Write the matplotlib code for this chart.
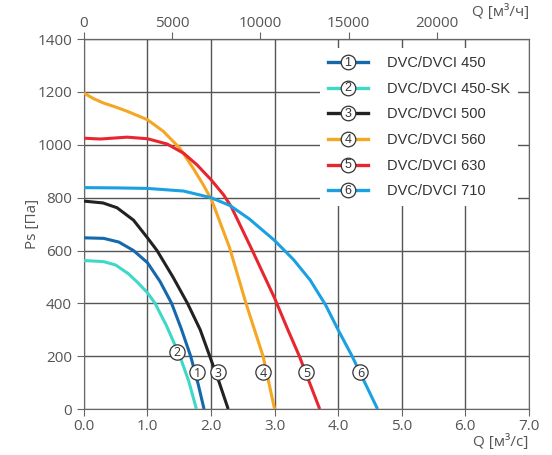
import matplotlib
matplotlib.use("Agg")
import matplotlib.pyplot as plt
from matplotlib.legend_handler import HandlerBase
from matplotlib.lines import Line2D
from matplotlib.text import Text

# fan curves, Q in m3/s, Ps in Pa
names = ["DVC/DVCI 450", "DVC/DVCI 450-SK", "DVC/DVCI 500",
         "DVC/DVCI 560", "DVC/DVCI 630", "DVC/DVCI 710"]
colors = ["#1668ad", "#3fd8c8", "#222222", "#f5a623", "#e8262f", "#1ba0e2"]

q1 = [0, 0.31, 0.55, 0.78, 1.0, 1.2, 1.38, 1.53, 1.68, 1.8, 1.89]
p1 = [648, 646, 632, 600, 554, 482, 400, 305, 200, 92, 0]
q2 = [0, 0.31, 0.5, 0.7, 0.85, 1.0, 1.12, 1.3, 1.51, 1.65, 1.77]
p2 = [562, 558, 545, 512, 478, 440, 400, 315, 200, 105, 0]
q3 = [0, 0.3, 0.52, 0.78, 1.0, 1.15, 1.4, 1.63, 1.83, 1.98, 2.13, 2.27]
p3 = [787, 780, 762, 715, 648, 600, 500, 400, 300, 200, 100, 0]
q4 = [0, 0.15, 0.31, 0.5, 0.68, 1.0, 1.25, 1.51, 1.72, 1.88, 2.01, 2.29, 2.55, 2.82, 3.0]
p4 = [1196, 1175, 1158, 1143, 1127, 1095, 1051, 987, 911, 848, 791, 612, 400, 199, 0]
q5 = [0, 0.26, 0.68, 1.0, 1.31, 1.57, 1.78, 2.0, 2.2, 2.32, 2.65, 3.0, 3.2, 3.39, 3.55, 3.71]
p5 = [1025, 1022, 1029, 1023, 1003, 968, 924, 868, 810, 765, 600, 420, 305, 200, 100, 0]
q6 = [0, 0.5, 1.0, 1.57, 2.0, 2.3, 2.6, 3.0, 3.3, 3.56, 3.8, 4.01, 4.22, 4.42, 4.62]
p6 = [838, 837, 835, 825, 800, 770, 720, 638, 565, 488, 395, 295, 200, 100, 0]

label_q = [1.78, 1.46, 2.11, 2.82, 3.50, 4.35]
label_p = [139, 216, 139, 139, 139, 139]

xticks = [0, 1, 2, 3, 4, 5, 6, 7]
yticks = [0, 200, 400, 600, 800, 1000, 1200, 1400]
top_ticks = [0, 5000, 10000, 15000, 20000]

txt_col = "#555555"
grid_col = "#555555"


class CircleNum(HandlerBase):
    def __init__(self, num):
        super().__init__()
        self.num = num

    def create_artists(self, legend, orig_handle, xdescent, ydescent,
                       width, height, fontsize, trans):
        y = height / 2 - ydescent
        ln = Line2D([-xdescent, width - xdescent], [y, y],
                    color=orig_handle.get_color(), lw=2.4, transform=trans)
        c = Line2D([width / 2 - xdescent], [y], marker="o", ms=10.5,
                   mfc="white", mec="#333333", mew=0.9, transform=trans)
        t = Text(width / 2 - xdescent, y - 0.5, self.num, ha="center", va="center",
                 fontsize=9, color="#333333", family="Liberation Sans",
                 transform=trans)
        return [ln, c, t]


fig = plt.figure(figsize=(5.52, 4.55), dpi=100)
ax = fig.add_axes([0.152, 0.101, 0.806, 0.813])

qs = [q1, q2, q3, q4, q5, q6]
ps = [p1, p2, p3, p4, p5, p6]
handles = []
for q, p, c, n in zip(qs, ps, colors, names):
    h, = ax.plot(q, p, color=c, lw=2.2, label=n, zorder=3,
                 solid_capstyle="butt", solid_joinstyle="round")
    handles.append(h)

for i in range(6):
    ax.plot(label_q[i], label_p[i], marker="o", ms=11, mfc="white",
            mec="#333333", mew=0.9, zorder=4)
    ax.text(label_q[i], label_p[i] - 3, str(i + 1), ha="center", va="center",
            fontsize=9, color="#333333", family="Open Sans", zorder=5)

ax.set_xlim(0, 7)
ax.set_ylim(0, 1400)
ax.set_xticks(xticks)
ax.set_xticklabels(["%.1f" % v for v in xticks])
ax.set_yticks(yticks)
ax.grid(True, color=grid_col, lw=1.0)
ax.set_axisbelow(True)
for s in ax.spines.values():
    s.set_color("#666666")
ax.tick_params(colors="#666666", labelcolor=txt_col, labelsize=11, length=5)
ax.tick_params(axis="x", pad=2)
for lab in ax.get_xticklabels() + ax.get_yticklabels():
    lab.set_family("Open Sans")

top = ax.secondary_xaxis("top", functions=(lambda x: x * 3600, lambda x: x / 3600))
top.set_xticks(top_ticks)
top.tick_params(colors="#666666", labelcolor=txt_col, labelsize=11, length=5, pad=1)
for lab in top.get_xticklabels():
    lab.set_family("Open Sans")

ax.set_ylabel("Ps [Па]", family="Open Sans", fontsize=11, color=txt_col, labelpad=-2)
ax.text(1.0, -0.09, "Q [м³/с]", transform=ax.transAxes, ha="right", va="center",
        family="Open Sans", fontsize=11, color=txt_col)
ax.text(1.0, 1.073, "Q [м³/ч]", transform=ax.transAxes, ha="right", va="center",
        family="Open Sans", fontsize=11, color=txt_col)

hmap = {h: CircleNum(str(i + 1)) for i, h in enumerate(handles)}
leg = ax.legend(handles=handles, handler_map=hmap, loc="upper right",
                bbox_to_anchor=(0.975, 0.976), frameon=True, fancybox=False,
                framealpha=1, edgecolor="none", facecolor="white",
                prop={"family": "Liberation Sans", "size": 10.5},
                handlelength=2.7, handletextpad=1.3, labelspacing=0.8,
                borderpad=0.55, borderaxespad=0)
for t in leg.get_texts():
    t.set_color("#333333")
leg.set_zorder(6)

fig.savefig("out.png", dpi=100)
